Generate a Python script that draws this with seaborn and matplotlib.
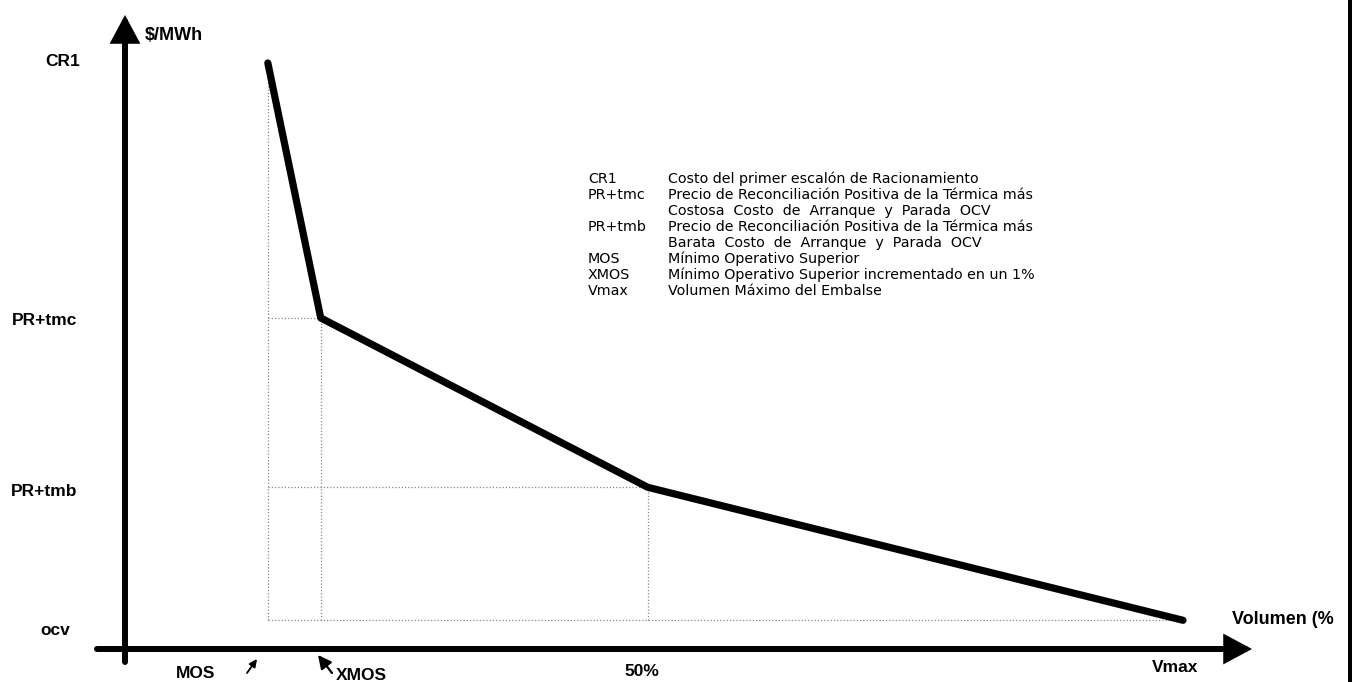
import matplotlib
matplotlib.use("Agg")
import matplotlib.pyplot as plt
import seaborn as sns
import pandas as pd
from matplotlib.patches import FancyArrowPatch, ArrowStyle

# ---------------- data ----------------
x_labels = ["MOS", "XMOS", "50%", "Vmax"]
x_values = [13.5, 18.5, 49.4, 100.0]          # volume (%)
y_labels = ["CR1", "PR+tmc", "PR+tmb", "ocv"]
y_values = [100.0, 56.5, 27.6, 4.9]            # price ($/MWh, schematic)
y_axis_label = "$/MWh"
x_axis_label = "Volumen (%"
legend_keys = ["CR1", "PR+tmc", "", "PR+tmb", "", "MOS", "XMOS", "Vmax"]
legend_desc = [
    "Costo del primer escalón de Racionamiento",
    "Precio de Reconciliación Positiva de la Térmica más",
    "Costosa  Costo  de  Arranque  y  Parada  OCV",
    "Precio de Reconciliación Positiva de la Térmica más",
    "Barata  Costo  de  Arranque  y  Parada  OCV",
    "Mínimo Operativo Superior",
    "Mínimo Operativo Superior incrementado en un 1%",
    "Volumen Máximo del Embalse",
]

curve = pd.DataFrame({"volumen": x_values, "precio": y_values})

# ---------------- style ----------------
sns.set_theme(style="white")
plt.rcParams["font.family"] = ["Liberation Sans", "DejaVu Sans"]
plt.rcParams["text.color"] = "black"

W, H = 1352, 682
fig = plt.figure(figsize=(W / 100, H / 100), dpi=100)
ax = fig.add_axes([0, 0, 1, 1])
# scale: origin at pixel (125, 649); 10.58 px per % ; 5.86 px per unit
X0, SX, Y0, SY = 125, 10.58, 649, 5.86
ax.set_xlim(-X0 / SX, (W - X0) / SX)
ax.set_ylim(-(H - Y0) / SY, Y0 / SY)
ax.axis("off")

def dx(px):
    return (px - X0) / SX

def dy(py):
    return (Y0 - py) / SY

# dotted guide lines
guide = dict(color="#8a8a8a", lw=0.9, linestyle=(0, (1, 1.6)), zorder=1)
ocv = y_values[-1]
for xv, yv in zip(x_values[:-1], y_values[:-1]):
    ax.plot([xv, xv], [ocv, yv], **guide)
for xv, yv in zip(x_values[1:], y_values[1:]):
    ax.plot([x_values[0], xv], [yv, yv], **guide)

# main curve
sns.lineplot(data=curve, x="volumen", y="precio", sort=False, color="black",
             lw=5.2, solid_capstyle="round", solid_joinstyle="round",
             ax=ax, zorder=3)
ax.set_xlabel("")
ax.set_ylabel("")
ax.axis("off")

# axes arrows
def axis_arrow(p0, p1):
    a = FancyArrowPatch(p0, p1,
                        arrowstyle=ArrowStyle("-|>", head_length=14, head_width=7.5),
                        mutation_scale=1, lw=4.3, color="black",
                        shrinkA=0, shrinkB=0, joinstyle="miter", zorder=4)
    ax.add_patch(a)

axis_arrow((0, dy(662)), (0, dy(15)))
axis_arrow((dx(97), 0), (dx(1252), 0))

# right border bar
ax.axvline(dx(1349.5), color="black", lw=3.6)

# y labels
bold = dict(fontsize=12.5, fontweight="bold", color="black")
y_lab_right = [80, 77, 77, 70]
y_lab_off = [1, -3, -4, -10]
for lab, val, rx, off in zip(y_labels, y_values, y_lab_right, y_lab_off):
    ax.annotate(lab, xy=(dx(rx), val), xytext=(0, off), textcoords="offset pixels",
                ha="right", va="center", **bold)

# x labels
x_lab_off = [(-72, -24), (41, -26), (-6, -22), (-8, -19)]
for lab, val, (ox, oy) in zip(x_labels, x_values, x_lab_off):
    ax.annotate(lab, xy=(val, 0), xytext=(ox, oy), textcoords="offset pixels",
                ha="center", va="center", **bold)

# axis titles
ax.text(dx(145), dy(36), y_axis_label, ha="left", va="center", parse_math=False,
        fontsize=13, fontweight="bold", color="black")
ax.text(dx(1232), dy(619), x_axis_label, ha="left", va="center",
        fontsize=13, fontweight="bold", color="black")

# small pointer arrows below the axis
ax.annotate("", xy=(257, H - 659), xytext=(247, H - 673), xycoords="figure pixels",
            arrowprops=dict(arrowstyle=ArrowStyle("-|>", head_length=4.5, head_width=2.2),
                            mutation_scale=1, lw=1.3, color="black", shrinkA=0, shrinkB=0))
ax.annotate("", xy=(318, H - 655), xytext=(332, H - 673), xycoords="figure pixels",
            arrowprops=dict(arrowstyle=ArrowStyle("-|>", head_length=8, head_width=4),
                            mutation_scale=1, lw=1.6, color="black", shrinkA=0, shrinkB=0))

# legend block
leg = dict(fontsize=10.3, family=["DejaVu Sans"], color="black", va="center", ha="left")
for i, (k, d) in enumerate(zip(legend_keys, legend_desc)):
    py = 179 + i * 16.0
    if k:
        ax.text(dx(588), dy(py), k, **leg)
    ax.text(dx(668), dy(py), d, **leg)

fig.savefig("out.png", dpi=100, facecolor="white")
